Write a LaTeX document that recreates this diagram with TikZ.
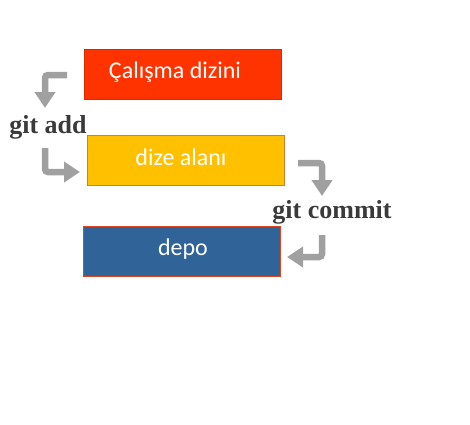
\documentclass[tikz,border=0pt]{standalone}
\usepackage{fontspec}
\setmainfont{Carlito}
\newfontfamily\cmdfont{Liberation Serif}
\usetikzlibrary{positioning}
\usetikzlibrary{arrows.meta}
\definecolor{workred}{RGB}{255,51,0}
\definecolor{stageyellow}{RGB}{255,192,0}
\definecolor{repoblue}{RGB}{48,100,152}
\definecolor{arrowgray}{RGB}{160,160,160}
\definecolor{cmdgray}{RGB}{58,58,58}

\begin{document}
\begin{tikzpicture}
[x=1pt, y=-1pt,
 area/.style={minimum width=197pt, minimum height=50pt, inner sep=0pt,
   line width=0.8pt, text=white, font=\fontsize{24}{28}\selectfont},
 cmd/.style={text=cmdgray, inner sep=0pt, font=\cmdfont\bfseries\fontsize{26}{30}\selectfont},
 flow/.style={draw=arrowgray, line width=6.5pt, rounded corners=3pt,
   -{Triangle[length=16pt, width=20pt]}}]

\useasboundingbox (0,0) rectangle (470,424);

% The three areas:
\node[area, fill=workred, draw=workred!85!black] (calisma) at (182.5,74) {};
\node[area, fill=stageyellow, draw=brown!80!orange] (dize) at (185.5,160) {};
\node[area, fill=repoblue, draw=red!45!brown] (depo) at (181.5,251) {};

% Labels inside the areas:
\node[anchor=base, text=white, font=\fontsize{24}{28}\selectfont] (calismatxt) at (175,78) {Çalışma dizini};
\node[anchor=base, text=white, font=\fontsize{24}{28}\selectfont] (dizetxt) at (181,165) {dize alanı};
\node[anchor=base, text=white, font=\fontsize{24}{28}\selectfont] (depotxt) at (183,255) {depo};

% Commands:
\node[cmd, anchor=base] (gitadd) at (48,133) {git add};
\node[cmd, anchor=base] (gitcommit) at (332,218) {git commit};

% Arrows:
\coordinate (addin) at (67,75);
\coordinate (addout) at (45,108);
\coordinate (addback) at (45,148);
\coordinate (addend) at (80,172);
\coordinate (comin) at (298,163);
\coordinate (comout) at (322,196);
\coordinate (comback) at (322,235);
\coordinate (comend) at (287,257);

\draw[flow] (addin) -| (addout);
\draw[flow] (addback) |- (addend);
\draw[flow] (comin) -| (comout);
\draw[flow] (comback) |- (comend);

\end{tikzpicture}
\end{document}
